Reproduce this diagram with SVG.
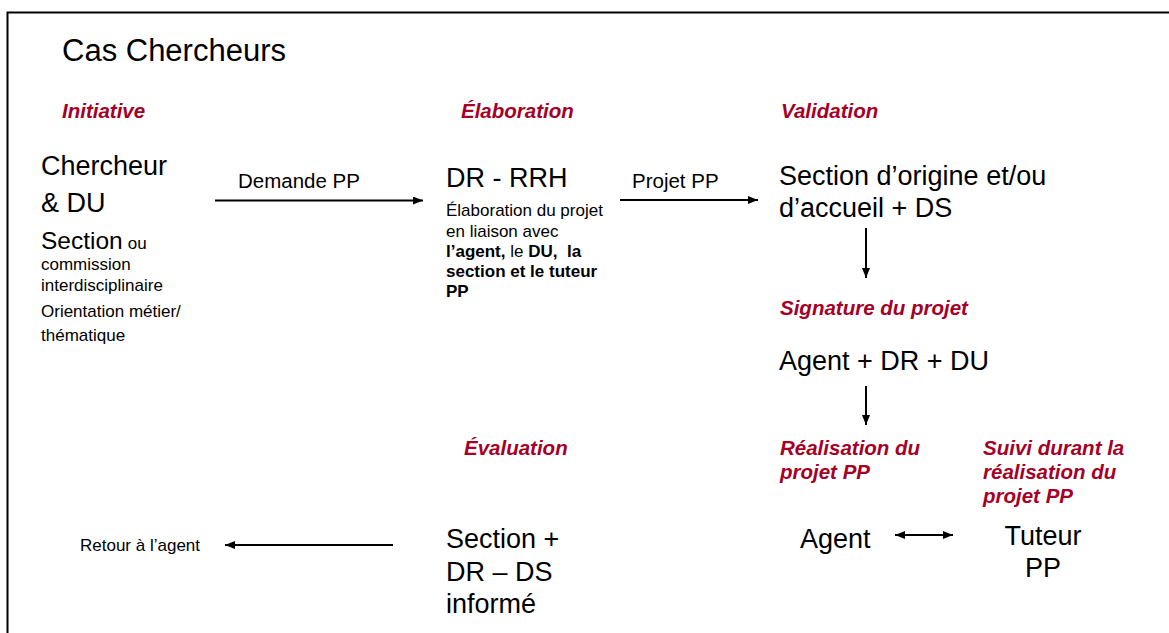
<svg xmlns="http://www.w3.org/2000/svg" width="1169" height="633" viewBox="0 0 1169 633">
<defs>
<marker id="ah" markerWidth="10" markerHeight="8" refX="10" refY="4" orient="auto-start-reverse" markerUnits="userSpaceOnUse">
<path d="M0,0 L10,4 L0,8 Z" fill="#000"/>
</marker>
<style>
text{font-family:"Liberation Sans",Arial,sans-serif;fill:#000}
.ttl{font-size:31px}
.ph{font-size:20.5px;font-weight:bold;font-style:italic;fill:#a50026}
.big{font-size:27px}
.mid{font-size:24.5px}
.sm{font-size:17px}
.lbl{font-size:20.5px}
.b{font-weight:bold}
.ln{stroke:#000;stroke-width:2;fill:none}
</style>
</defs>
<rect width="1169" height="633" fill="#fff"/>
<path d="M7.5,633 V12.5 H1169" stroke="#000" stroke-width="2" fill="none"/>
<g id="title"><text class="ttl" x="62" y="61">Cas Chercheurs</text></g>
<g id="phases">
<text class="ph" x="62" y="118">Initiative</text>
<text class="ph" x="461" y="118">Élaboration</text>
<text class="ph" x="781" y="118">Validation</text>
<text class="ph" x="780" y="315">Signature du projet</text>
<text class="ph" x="464" y="455">Évaluation</text>
<text class="ph" x="780" y="455">Réalisation du</text>
<text class="ph" x="780" y="479">projet PP</text>
<text class="ph" x="983" y="455">Suivi durant la</text>
<text class="ph" x="983" y="479">réalisation du</text>
<text class="ph" x="983" y="503">projet PP</text>
</g>
<g id="node-chercheur">
<text class="big" x="41" y="175">Chercheur</text>
<text class="big" x="41" y="212">&amp; DU</text>
<text x="41" y="249"><tspan class="mid">Section</tspan><tspan class="sm" dx="5" font-size="15">ou</tspan></text>
<text class="sm" x="41" y="270">commission</text>
<text class="sm" x="41" y="291">interdisciplinaire</text>
<text class="sm" x="41" y="317">Orientation métier/</text>
<text class="sm" x="41" y="341">thématique</text>
</g>
<g id="node-drrrh">
<text class="big" x="446" y="187">DR - RRH</text>
<text class="sm" x="446" y="216">Élaboration du projet</text>
<text class="sm" x="446" y="237">en liaison avec</text>
<text class="sm" x="446" y="257" xml:space="preserve"><tspan class="b">l’agent,</tspan> le <tspan class="b">DU,  la</tspan></text>
<text class="sm b" x="446" y="277">section et le tuteur</text>
<text class="sm b" x="446" y="297">PP</text>
</g>
<g id="node-section">
<text class="big" x="779" y="185">Section d’origine et/ou</text>
<text class="big" x="779" y="217">d’accueil + DS</text>
</g>
<g id="node-signature">
<text class="big" x="779" y="370">Agent + DR + DU</text>
</g>
<g id="node-evaluation">
<text class="big" x="446" y="548">Section +</text>
<text class="big" x="446" y="581">DR – DS</text>
<text class="big" x="446" y="613">informé</text>
</g>
<g id="node-retour">
<text class="sm" x="80" y="551" font-size="15.5">Retour à l’agent</text>
</g>
<g id="node-agent"><text class="big" x="800" y="548">Agent</text></g>
<g id="node-tuteur">
<text class="big" x="1043" y="545" text-anchor="middle">Tuteur</text>
<text class="big" x="1043" y="577" text-anchor="middle">PP</text>
</g>
<g id="connectors">
<line class="ln" x1="215" y1="200.5" x2="423" y2="200.5" marker-end="url(#ah)"/>
<text class="lbl" x="238" y="188">Demande PP</text>
<line class="ln" x1="620" y1="200" x2="758" y2="200" marker-end="url(#ah)"/>
<text class="lbl" x="632" y="188">Projet PP</text>
<line class="ln" x1="866" y1="228" x2="866" y2="278" stroke-width="1.5" marker-end="url(#ah)"/>
<line class="ln" x1="866" y1="386" x2="866" y2="425" stroke-width="1.5" marker-end="url(#ah)"/>
<line class="ln" x1="393" y1="545" x2="225" y2="545" marker-end="url(#ah)"/>
<line class="ln" x1="895" y1="535" x2="953" y2="535" stroke-width="1.5" marker-start="url(#ah)" marker-end="url(#ah)"/>
</g>
</svg>
